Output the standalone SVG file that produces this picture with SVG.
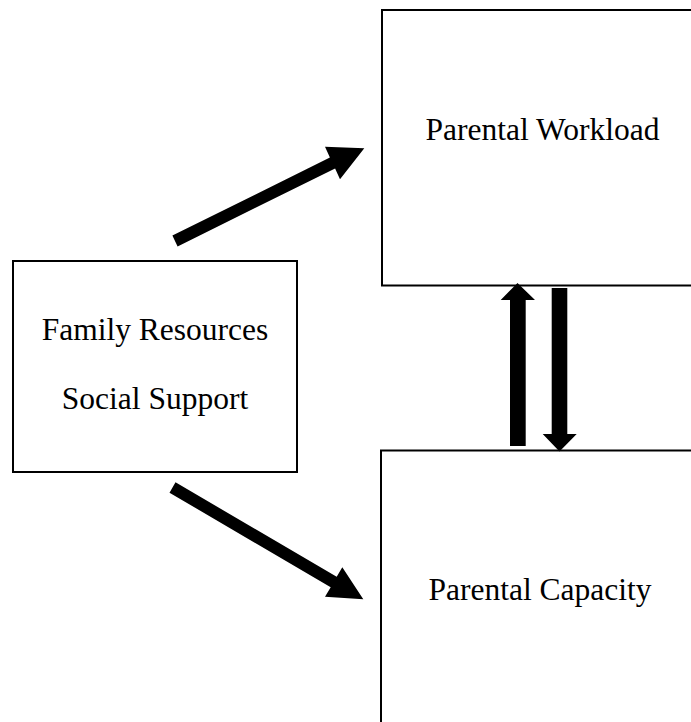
<svg xmlns="http://www.w3.org/2000/svg" width="691" height="722" viewBox="0 0 691 722">
<style>
.box{fill:#fff;stroke:#000;stroke-width:2}
.lbl{font-family:"Liberation Serif","Times New Roman",serif;font-size:31.5px;fill:#000;text-anchor:middle}
.arr{fill:#000;stroke:none}
</style>
<rect width="691" height="722" fill="#fff"/>
<g id="node-workload">
<rect class="box" x="382" y="10" width="330" height="275.5"/>
<text class="lbl" x="542.5" y="140">Parental Workload</text>
</g>
<g id="node-resources">
<rect class="box" x="13" y="261" width="284" height="211"/>
<text class="lbl" x="155" y="340">Family Resources</text>
<text class="lbl" x="155" y="409">Social Support</text>
</g>
<g id="node-capacity">
<rect class="box" x="381" y="450.5" width="330" height="290"/>
<text class="lbl" x="540" y="600">Parental Capacity</text>
</g>
<g id="connectors">
<polygon class="arr" points="172.4,235.6 329.9,157.6 325,146.7 364.3,148.3 340,179.3 335.1,168.4 177.6,246.4"/>
<polygon class="arr" points="175.5,482.3 336.7,576.8 342.3,567.3 363.3,599.3 325,596.7 330.7,587.2 169.5,492.7"/>
<polygon class="arr" points="510,446 510,300 500.7,300 517.5,283 535,300 525.7,300 525.7,446"/>
<polygon class="arr" points="551.7,288 567.3,288 567.3,434 576.7,434 559.5,451.5 542.7,434 551.7,434"/>
</g>
</svg>
